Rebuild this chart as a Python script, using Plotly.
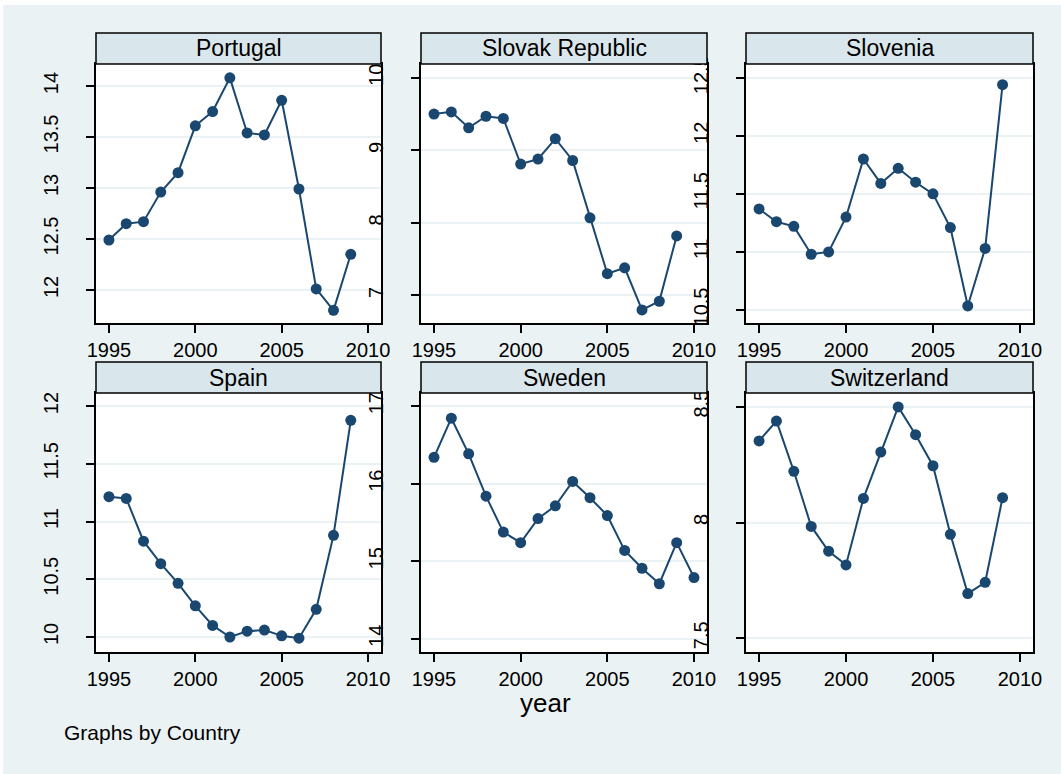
import plotly.graph_objects as go

W, H = 1061, 774

# ---------------- data ----------------
countries = ["Portugal", "Slovak Republic", "Slovenia", "Spain", "Sweden", "Switzerland"]
years = [1995, 1996, 1997, 1998, 1999, 2000, 2001, 2002, 2003, 2004, 2005, 2006, 2007, 2008, 2009]
years_sweden = [1995, 1996, 1997, 1998, 1999, 2000, 2001, 2002, 2003, 2004, 2005, 2006, 2007, 2008, 2009, 2010]

portugal = [12.49, 12.65, 12.67, 12.96, 13.15, 13.61, 13.75, 14.08, 13.54, 13.52, 13.86, 12.99, 12.01, 11.80, 12.35]
slovak = [9.50, 9.53, 9.31, 9.47, 9.44, 8.81, 8.88, 9.16, 8.86, 8.07, 7.30, 7.38, 6.80, 6.92, 7.82]
slovenia = [11.37, 11.26, 11.22, 10.98, 11.00, 11.30, 11.80, 11.59, 11.72, 11.60, 11.50, 11.21, 10.535, 11.03, 12.44]
spain = [11.215, 11.20, 10.83, 10.635, 10.465, 10.27, 10.10, 10.00, 10.05, 10.06, 10.01, 9.99, 10.24, 10.88, 11.876]
sweden = [16.34, 16.845, 16.385, 15.84, 15.376, 15.24, 15.55, 15.715, 16.03, 15.82, 15.59, 15.14, 14.91, 14.71, 15.24, 14.79]
switzerland = [8.352, 8.438, 8.221, 7.983, 7.876, 7.817, 8.104, 8.304, 8.499, 8.379, 8.245, 7.949, 7.693, 7.742, 8.107]

x_ticks = [1995, 2000, 2005, 2010]
y_ticks = [
    [12, 12.5, 13, 13.5, 14],
    [7, 8, 9, 10],
    [10.5, 11, 11.5, 12, 12.5],
    [10, 10.5, 11, 11.5, 12],
    [14, 15, 16, 17],
    [7.5, 8, 8.5],
]
y_tick_text = [
    ["12", "12.5", "13", "13.5", "14"],
    ["7", "8", "9", "10"],
    ["10.5", "11", "11.5", "12", "12.5"],
    ["10", "10.5", "11", "11.5", "12"],
    ["14", "15", "16", "17"],
    ["7.5", "8", "8.5"],
]

series_x = [years, years, years, years, years_sweden, years]
series_y = [portugal, slovak, slovenia, spain, sweden, switzerland]

# ---------------- style / layout ----------------
BG = "#eaf2f3"
STRIP = "#d9e6eb"
NAVY = "#1a476f"
GRID = "#eaf2f3"
FONT = "Liberation Sans, Arial, sans-serif"

# positions in page pixels
col_px = [(96, 381), (421, 707), (746, 1033)]
row_plot_px = [(64, 323), (393, 652)]
row_strip_px = [(33, 64), (362, 393)]
y_ranges = [
    [11.676, 14.216],
    [6.62, 10.19],
    [10.388, 12.618],
    [9.87, 12.113],
    [13.83, 17.17],
    [7.441, 8.559],
]
x_range = [1994.25, 2010.75]


def px_x(p):
    return p / W


def px_y(p):
    return 1 - p / H


fig = go.Figure()
layout = dict(
    width=W, height=H,
    autosize=False,
    margin=dict(l=0, r=0, t=0, b=0, pad=0, autoexpand=False),
    paper_bgcolor=BG,
    plot_bgcolor="white",
    showlegend=False,
    font=dict(family=FONT, color="black", size=20),
)
shapes = []
annotations = []

for i, name in enumerate(countries):
    r, c = divmod(i, 3)
    n = "" if i == 0 else str(i + 1)
    xa, ya = "x" + n, "y" + n
    x0, x1 = col_px[c]
    yt, yb = row_plot_px[r]
    fig.add_trace(go.Scatter(
        x=series_x[i], y=series_y[i], mode="lines+markers",
        xaxis=xa, yaxis=ya,
        line=dict(color=NAVY, width=2),
        marker=dict(color=NAVY, size=11),
        cliponaxis=False,
    ))
    layout["xaxis" + n] = dict(
        domain=[px_x(x0), px_x(x1)], anchor=ya, range=x_range,
        automargin=False,
        tickvals=x_ticks, ticktext=[str(v) for v in x_ticks],
        ticks="outside", ticklen=8, tickwidth=1.5, tickcolor="black",
        showline=True, linecolor="black", linewidth=1.5, mirror=True,
        showgrid=False, zeroline=False,
        tickfont=dict(size=20, family=FONT, color="black"),
    )
    layout["yaxis" + n] = dict(
        domain=[px_y(yb), px_y(yt)], anchor=xa, range=y_ranges[i],
        automargin=False,
        tickvals=y_ticks[i], ticktext=y_tick_text[i], tickangle=-90,
        ticks="outside", ticklen=8, tickwidth=1.5, tickcolor="black",
        showline=True, linecolor="black", linewidth=1.5, mirror=True,
        showgrid=True, gridcolor=GRID, gridwidth=2, zeroline=False,
        ticklabelstandoff=20,
        tickfont=dict(size=20, family=FONT, color="black"),
    )
    st, sb = row_strip_px[r]
    shapes.append(dict(
        type="rect", xref="paper", yref="paper", layer="above",
        x0=px_x(x0), x1=px_x(x1), y0=px_y(sb), y1=px_y(st),
        fillcolor=STRIP, line=dict(color="black", width=1.5),
    ))
    annotations.append(dict(
        text=name, xref="paper", yref="paper",
        x=px_x((x0 + x1) / 2), y=px_y((st + sb) / 2),
        xanchor="center", yanchor="middle", showarrow=False,
        font=dict(size=23, family=FONT, color="black"),
    ))

# thin white frame at the top and left edges
shapes.append(dict(type="rect", xref="paper", yref="paper", layer="below",
                   x0=0, x1=1, y0=px_y(5), y1=1, fillcolor="white", line=dict(width=0)))
shapes.append(dict(type="rect", xref="paper", yref="paper", layer="below",
                   x0=0, x1=px_x(3), y0=0, y1=1, fillcolor="white", line=dict(width=0)))

annotations.append(dict(
    text="year", xref="paper", yref="paper", x=px_x(545), y=px_y(703),
    xanchor="center", yanchor="middle", showarrow=False,
    font=dict(size=26, family=FONT, color="black"),
))
annotations.append(dict(
    text="Graphs by Country", xref="paper", yref="paper", x=px_x(62), y=px_y(732),
    xanchor="left", yanchor="middle", showarrow=False,
    font=dict(size=21, family=FONT, color="black"),
))

layout["shapes"] = shapes
layout["annotations"] = annotations
fig.update_layout(**layout)
fig.write_html(
    "out.html",
    config={"displayModeBar": False},
    post_script="document.body.style.margin='0';document.body.style.overflow='hidden';",
)
